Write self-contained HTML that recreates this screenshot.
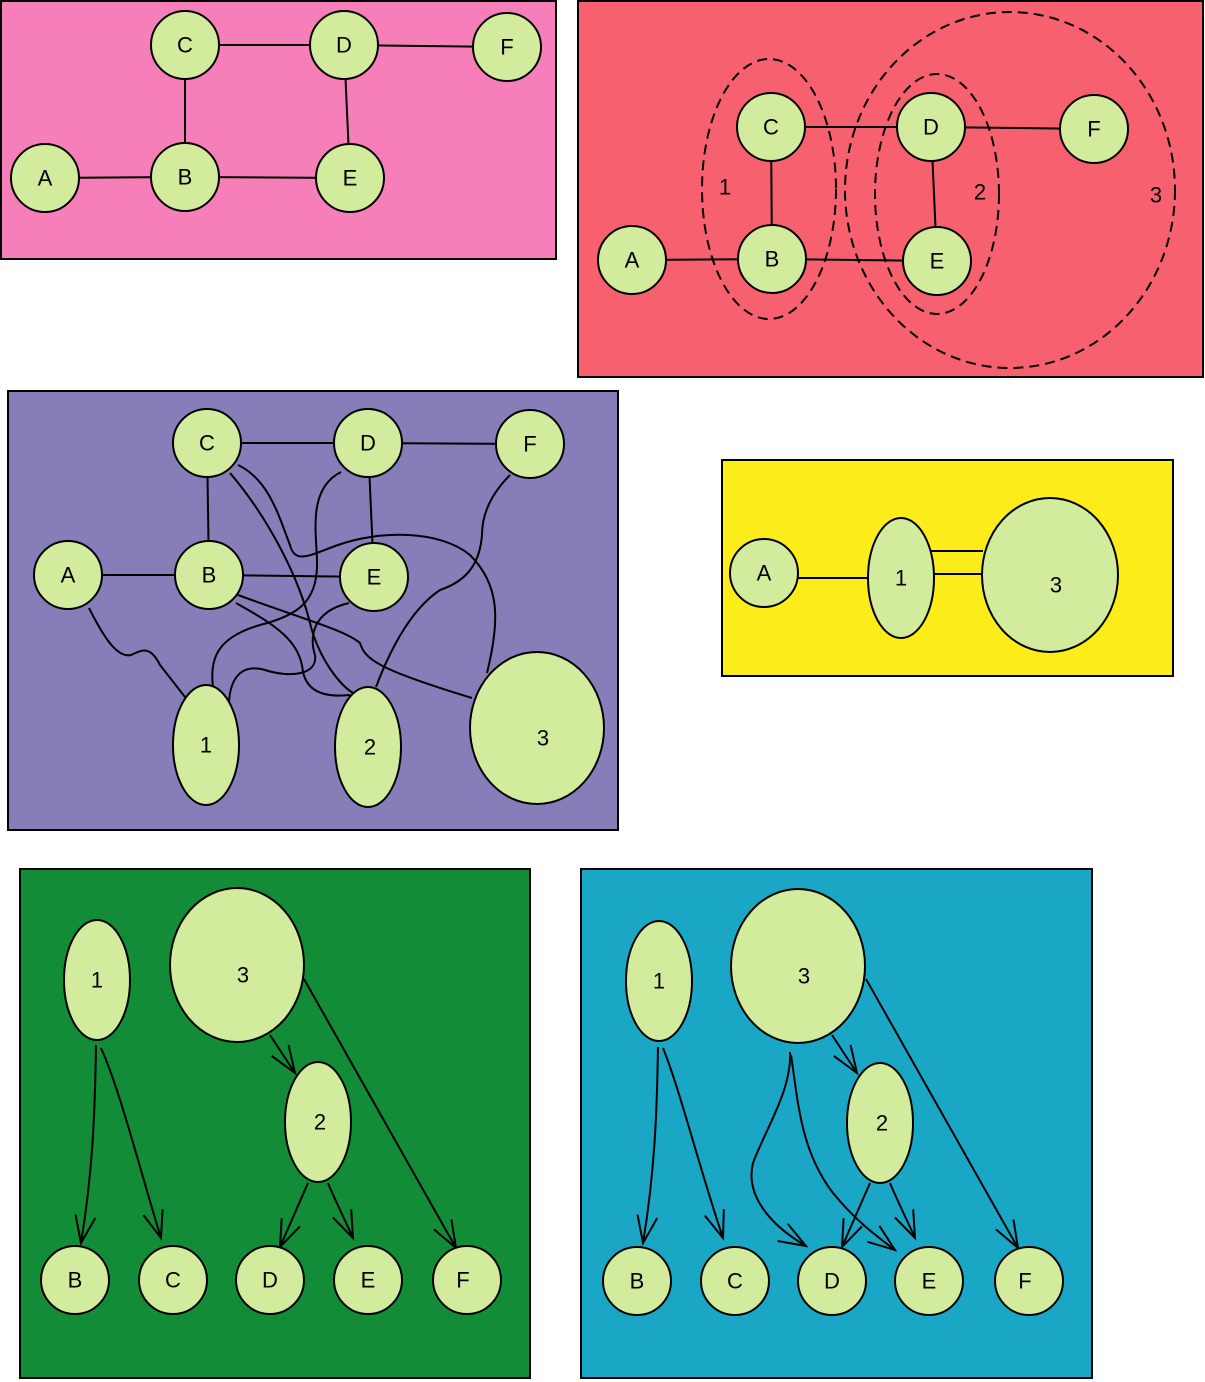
<!DOCTYPE html>
<html><head><meta charset="utf-8"><style>
html,body{margin:0;padding:0;background:#fff;}
svg{display:block;font-family:"Liberation Sans",sans-serif;}
text{font-size:22px;text-anchor:middle;dominant-baseline:central;fill:#000;}
.n{fill:#d2eb9d;stroke:#000;stroke-width:2;}
.e{fill:none;stroke:#000;stroke-width:2;}
.d{fill:none;stroke:#000;stroke-width:2;stroke-dasharray:10,6;}
.p{stroke:#000;stroke-width:2;}
</style></head><body>
<svg width="1205" height="1382" viewBox="0 0 1205 1382">
<defs>
<marker id="arr" markerUnits="userSpaceOnUse" markerWidth="40" markerHeight="40" refX="30" refY="20" orient="auto" viewBox="0 0 40 40">
<path d="M3,10 L30,20 L3,30" fill="none" stroke="#000" stroke-width="2"/>
</marker>
</defs>

<!-- Panel 1 -->
<g>
<rect x="1" y="1" width="555" height="258" fill="#f77fb9" class="p"/>
<path class="e" d="M185,45 L344,45 M344,45 L507,47 M185,45 L185,177 M344,45 L350,178 M45,178 L185,177 M185,177 L350,178"/>
<g><circle class="n" cx="185" cy="45" r="34"/><text x="185" y="45">C</text></g>
<g><circle class="n" cx="344" cy="45" r="34"/><text x="344" y="45">D</text></g>
<g><circle class="n" cx="507" cy="47" r="34"/><text x="507" y="47">F</text></g>
<g><circle class="n" cx="45" cy="178" r="34"/><text x="45" y="178">A</text></g>
<g><circle class="n" cx="185" cy="177" r="34"/><text x="185" y="177">B</text></g>
<g><circle class="n" cx="350" cy="178" r="34"/><text x="350" y="178">E</text></g>
</g>

<!-- Panel 2 -->
<g>
<rect x="578" y="1" width="625" height="376" fill="#f6606f" class="p"/>
<path class="e" d="M771,127 L931,127 M931,127 L1094,129 M771,127 L772,259 M931,127 L937,261 M632,260 L772,259 M772,259 L937,261"/>
<g><circle class="n" cx="771" cy="127" r="34"/><text x="771" y="127">C</text></g>
<g><circle class="n" cx="931" cy="127" r="34"/><text x="931" y="127">D</text></g>
<g><circle class="n" cx="1094" cy="129" r="34"/><text x="1094" y="129">F</text></g>
<g><circle class="n" cx="632" cy="260" r="34"/><text x="632" y="260">A</text></g>
<g><circle class="n" cx="772" cy="259" r="34"/><text x="772" y="259">B</text></g>
<g><circle class="n" cx="937" cy="261" r="34"/><text x="937" y="261">E</text></g>
<ellipse class="d" cx="769" cy="189" rx="67" ry="130"/>
<ellipse class="d" cx="937" cy="194" rx="62" ry="120"/>
<ellipse class="d" cx="1010" cy="190" rx="165" ry="178"/>
<text x="725" y="187">1</text>
<text x="980" y="192">2</text>
<text x="1156" y="195">3</text>
</g>

<!-- Panel 3 -->
<g>
<rect x="8" y="391" width="610" height="439" fill="#877db8" class="p"/>
<path class="e" d="M207,443 L368,443 M368,443 L530,444 M207,443 L209,575 M368,443 L374,577 M68,575 L209,575 M209,575 L374,577"/>
<path class="e" d="M89,608 C105,640 118,658 131,655 C142,650 150,645 160,665 L185,697"/>
<path class="e" d="M341,472 C305,490 318,540 317,567 C316,600 300,615 260,625 C215,638 210,660 213,688"/>
<path class="e" d="M349,603 C310,612 310,640 315,655 C318,675 290,678 265,670 C240,663 230,680 229,703"/>
<path class="e" d="M230,473 C270,520 300,580 311,627 C320,660 340,685 353,693"/>
<path class="e" d="M238,465 C270,480 280,520 290,545 C295,565 310,555 338,545 C380,530 440,530 470,555 C500,585 500,620 487,673"/>
<path class="e" d="M236,603 C275,625 300,640 303,672 C308,695 330,697 350,695"/>
<path class="e" d="M238,595 C300,618 345,630 360,643 C365,660 380,670 472,698"/>
<path class="e" d="M510,475 C490,495 482,515 482,535 C480,560 470,580 440,590 C410,610 390,650 376,687"/>
<g><circle class="n" cx="207" cy="443" r="34"/><text x="207" y="443">C</text></g>
<g><circle class="n" cx="368" cy="443" r="34"/><text x="368" y="443">D</text></g>
<g><circle class="n" cx="530" cy="444" r="34"/><text x="530" y="444">F</text></g>
<g><circle class="n" cx="68" cy="575" r="34"/><text x="68" y="575">A</text></g>
<g><circle class="n" cx="209" cy="575" r="34"/><text x="209" y="575">B</text></g>
<g><circle class="n" cx="374" cy="577" r="34"/><text x="374" y="577">E</text></g>
<g><ellipse class="n" cx="206" cy="745" rx="33" ry="60"/><text x="206" y="745">1</text></g>
<g><ellipse class="n" cx="368" cy="747" rx="33" ry="60"/><text x="370" y="747">2</text></g>
<g><ellipse class="n" cx="537" cy="728" rx="67" ry="76"/><text x="543" y="738">3</text></g>
</g>

<!-- Panel 4 -->
<g>
<rect x="722" y="460" width="451" height="216" fill="#fced1a" class="p"/>
<path class="e" d="M798,578 L868,578 M931,551 L983,551 M934,574 L983,574"/>
<g><circle class="n" cx="764" cy="573" r="34"/><text x="764" y="573">A</text></g>
<g><ellipse class="n" cx="901" cy="578" rx="33" ry="60"/><text x="901" y="578">1</text></g>
<g><ellipse class="n" cx="1050" cy="575" rx="68" ry="77"/><text x="1056" y="585">3</text></g>
</g>

<!-- Panel 5 -->
<g>
<rect x="20" y="869" width="510" height="509" fill="#128c37" class="p"/>
<path class="e" marker-end="url(#arr)" d="M96,1045 C95,1110 93,1170 81,1243"/>
<path class="e" marker-end="url(#arr)" d="M101,1048 C120,1090 140,1170 161,1238"/>
<path class="e" marker-end="url(#arr)" d="M270,1035 L295,1073"/>
<path class="e" marker-end="url(#arr)" d="M308,1183 L280,1247"/>
<path class="e" marker-end="url(#arr)" d="M328,1183 C335,1200 345,1220 353,1238"/>
<path class="e" marker-end="url(#arr)" d="M304,979 L456,1248"/>
<g><ellipse class="n" cx="97" cy="980" rx="33" ry="60"/><text x="97" y="980">1</text></g>
<g><ellipse class="n" cx="237" cy="965" rx="67" ry="77"/><text x="243" y="975">3</text></g>
<g><ellipse class="n" cx="318" cy="1122" rx="33" ry="60"/><text x="320" y="1122">2</text></g>
<g><circle class="n" cx="75" cy="1280" r="34"/><text x="75" y="1280">B</text></g>
<g><circle class="n" cx="173" cy="1280" r="34"/><text x="173" y="1280">C</text></g>
<g><circle class="n" cx="270" cy="1280" r="34"/><text x="270" y="1280">D</text></g>
<g><circle class="n" cx="368" cy="1280" r="34"/><text x="368" y="1280">E</text></g>
<g><circle class="n" cx="467" cy="1280" r="34"/><text x="463" y="1280">F</text></g>
</g>

<!-- Panel 6 -->
<g>
<rect x="581" y="869" width="511" height="509" fill="#1aa7c6" class="p"/>
<path class="e" marker-end="url(#arr)" d="M658,1047 C657,1110 655,1170 643,1243"/>
<path class="e" marker-end="url(#arr)" d="M663,1048 C680,1090 700,1170 723,1238"/>
<path class="e" marker-end="url(#arr)" d="M790,1052 C792,1090 765,1130 753,1163 C745,1195 770,1225 806,1246"/>
<path class="e" marker-end="url(#arr)" d="M791,1055 C798,1100 800,1150 833,1193 C855,1220 875,1235 895,1250"/>
<path class="e" marker-end="url(#arr)" d="M832,1035 L857,1073"/>
<path class="e" marker-end="url(#arr)" d="M870,1183 L842,1247"/>
<path class="e" marker-end="url(#arr)" d="M890,1183 C897,1200 907,1220 915,1238"/>
<path class="e" marker-end="url(#arr)" d="M866,979 L1018,1248"/>
<g><ellipse class="n" cx="659" cy="981" rx="33" ry="60"/><text x="659" y="981">1</text></g>
<g><ellipse class="n" cx="798" cy="966" rx="67" ry="77"/><text x="804" y="976">3</text></g>
<g><ellipse class="n" cx="880" cy="1123" rx="33" ry="60"/><text x="882" y="1123">2</text></g>
<g><circle class="n" cx="637" cy="1281" r="34"/><text x="637" y="1281">B</text></g>
<g><circle class="n" cx="735" cy="1281" r="34"/><text x="735" y="1281">C</text></g>
<g><circle class="n" cx="832" cy="1281" r="34"/><text x="832" y="1281">D</text></g>
<g><circle class="n" cx="929" cy="1281" r="34"/><text x="929" y="1281">E</text></g>
<g><circle class="n" cx="1029" cy="1281" r="34"/><text x="1025" y="1281">F</text></g>
</g>
</svg>
</body></html>
